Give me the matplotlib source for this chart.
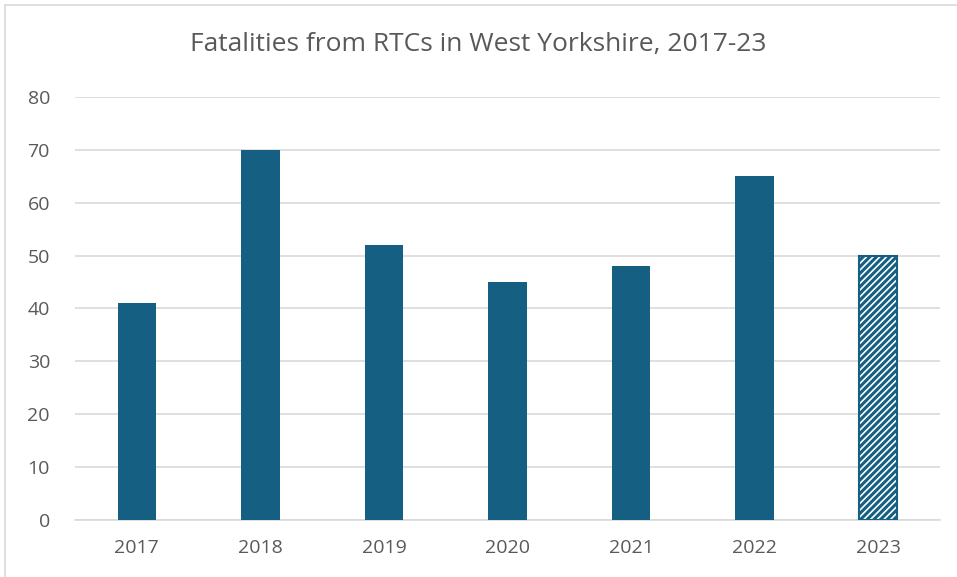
import matplotlib.pyplot as plt
import matplotlib.lines as mlines
import numpy as np

years = ['2017', '2018', '2019', '2020', '2021', '2022', '2023']
fatalities = [41, 70, 52, 45, 48, 65, 50]
provisional = [False, False, False, False, False, False, True]
yticks = [0, 10, 20, 30, 40, 50, 60, 70, 80]

bar_col = '#156082'
text_col = '#595959'
grid_col = '#D9D9D9'

plt.rcParams['font.family'] = ['Open Sans', 'DejaVu Sans']
plt.rcParams['hatch.linewidth'] = 2.2
plt.rcParams['hatch.color'] = bar_col

fig = plt.figure(figsize=(9.57, 5.77), dpi=100)
ax = fig.add_axes([75 / 957, 57 / 577, 865 / 957, 423 / 577])

x = np.arange(len(years))
for i in range(len(years)):
    if provisional[i]:
        ax.bar(x[i], fatalities[i], width=0.31, color='white', edgecolor=bar_col,
               hatch='/////', linewidth=1.5, zorder=3)
    else:
        ax.bar(x[i], fatalities[i], width=0.31, color=bar_col, zorder=3)

ax.set_xlim(-0.5, len(years) - 0.5)
ax.set_ylim(0, 80)
ax.set_yticks(yticks)
ax.set_xticks(x)
ax.set_xticklabels(years)
ax.grid(axis='y', color=grid_col, linewidth=1.2, zorder=0)
ax.set_axisbelow(True)
for s in ['top', 'right', 'left']:
    ax.spines[s].set_visible(False)
ax.spines['bottom'].set_color(grid_col)
ax.spines['bottom'].set_linewidth(1.2)
ax.tick_params(axis='both', length=0, labelsize=14, colors=text_col)
ax.tick_params(axis='y', pad=18)
ax.tick_params(axis='x', pad=14)

fig.text(0.5, 1 - 45 / 577, 'Fatalities from RTCs in West Yorkshire, 2017-23',
         ha='center', va='center', fontsize=19, color=text_col)

# outer chart frame (left and top edges visible)
fig.add_artist(mlines.Line2D([5 / 957, 5 / 957], [0, 1 - 5 / 577], color=grid_col, lw=1.2))
fig.add_artist(mlines.Line2D([5 / 957, 1], [1 - 5 / 577, 1 - 5 / 577], color=grid_col, lw=1.2))

plt.savefig('out.png', dpi=100)
plt.close()
